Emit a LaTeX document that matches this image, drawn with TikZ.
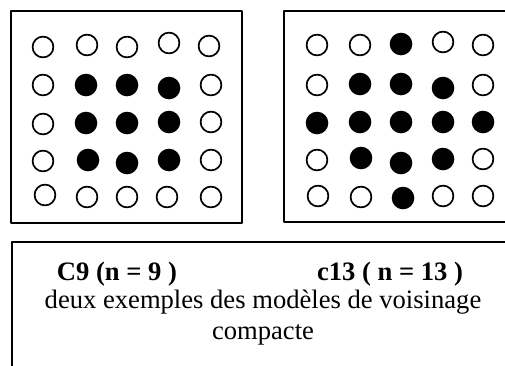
\documentclass[tikz,border=0pt]{standalone}
\usepackage{fontspec}
\setmainfont{Liberation Serif}
\tikzset{
  vide/.style={line width=1.7pt},
  plein/.style={fill=black},
  cadre/.style={line width=1.4pt},
  legende/.style={anchor=base, inner sep=0pt, font=\fontsize{26.6}{32}\selectfont}
}
\begin{document}
\begin{tikzpicture}[x=1pt, y=-1pt, line join=round, line cap=round]
	\useasboundingbox (0,0) rectangle (505,365);
	\clip (0,0) rectangle (505,365);
	% cadres
	\draw[cadre] (11,11) rectangle (242,223);
	\draw[cadre] (284,11) rectangle (520,222);
	\draw[cadre] (12,242) rectangle (520,380);
	% modele C9
	\foreach \x/\y in {43/47,87/45,127/47,169/43,209/46,43/85,211/85,43/124,211/122,43/161,211/160,45/195,87/197,127/197,167/197,211/197}
		\draw[vide] (\x,\y) circle (10.4);
	\foreach \x/\y in {86/85,127/85,169/88,86/123,127/123,169/122,88/160,127/163,169/160}
		\fill[plein] (\x,\y) circle (11.3);
	% modele c13
	\foreach \x/\y in {317/45,360/45,443/42,483/45,317/85,483/85,317/160,483/159,318/196,361/197,443/196,483/196}
		\draw[vide] (\x,\y) circle (10.4);
	\foreach \x/\y in {401/44,360/84,401/84,443/88,317/123,360/122,401/122,443/122,483/122,361/158,401/163,443/159,403/198}
		\fill[plein] (\x,\y) circle (11.3);
	% legende
	\node[legende] (cneuf) at (117,280) {\bfseries C9 (n = 9 )};
	\node[legende] (ctreize) at (390,280) {\bfseries c13 ( n = 13 )};
	\node[legende] (titre) at (263,308) {deux exemples des modèles de voisinage};
	\node[legende] (titrebis) at (263,339) {compacte};
\end{tikzpicture}
\end{document}
